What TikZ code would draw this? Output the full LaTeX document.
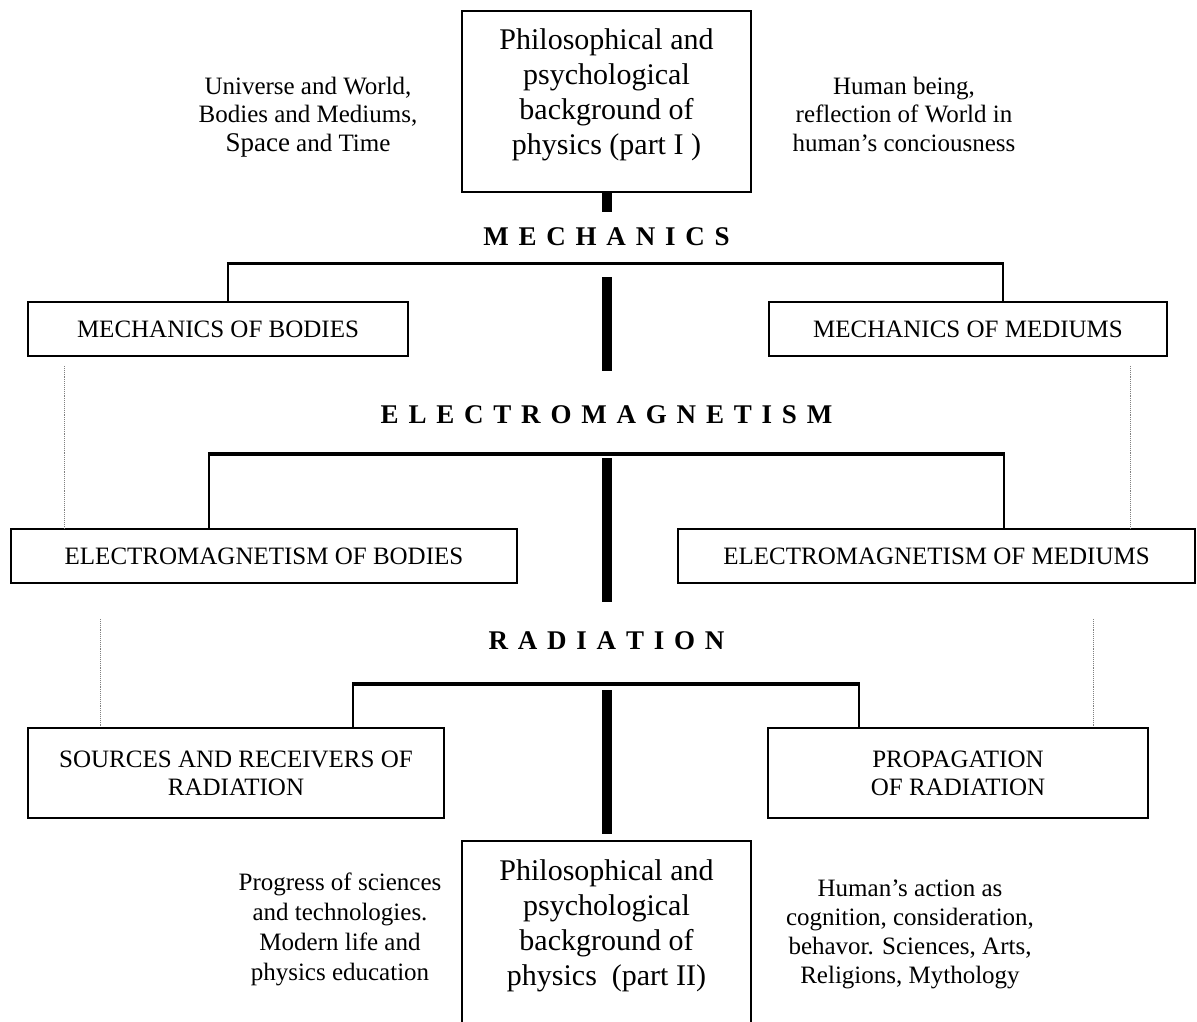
\documentclass[tikz,border=0pt]{standalone}
\usepackage{fontspec}
\setmainfont{Liberation Serif}
\usetikzlibrary{calc}

% spread the letters of a word apart by a fixed gap
\newcommand\spreadit[1]{\spreadA#1\relax\unkern}
\def\spreadA#1{\ifx#1\relax\else#1\kern9.8pt\expandafter\spreadA\fi}

\begin{document}
\begin{tikzpicture}[x=1pt, y=-1pt,
  box/.style={draw, line width=1.5pt, rectangle, inner sep=0pt, align=center,
    font=\fontsize{25}{28}\selectfont},
  bigbox/.style={draw, line width=1.6pt, rectangle, inner sep=0pt, align=center,
    font=\fontsize{30}{35}\selectfont, minimum width=289pt},
  sidetext/.style={inner sep=0pt, align=center, anchor=north,
    font=\fontsize{25}{30}\selectfont},
  heading/.style={inner sep=0pt, anchor=base, font=\fontsize{27}{30}\selectfont\bfseries},
  trunk/.style={line width=10pt},
  vbar/.style={line width=2.5pt},
  faint/.style={draw=gray, line width=0.9pt, densely dotted},
]
\useasboundingbox (0,0) rectangle (1197,1021);
\fill[white] (0,0) rectangle (1197,1021);
\clip (0,0) rectangle (1197,1021);

% ---- top block ----
\node[bigbox, minimum height=181pt] (top) at (606.5,101.5)
  {Philosophical and\\psychological\\background of\\physics (part I )\rule[-20.5pt]{0pt}{0pt}};
\node[sidetext, font=\fontsize{25}{28.5}\selectfont] (world) at (308,76.5)
  {Universe and World,\\Bodies and Mediums,\\{\fontsize{27}{28.5}\selectfont Space} and Time};
\node[sidetext, font=\fontsize{25}{28.5}\selectfont] (human) at (904,76.5)
  {Human being,\\reflection of World in\\human’s conciousness};

% ---- mechanics ----
\node[heading] (mech) at (606.5,245) {\spreadit{MECHANICS}};
\node[box, minimum width=380pt, minimum height=54pt] (mb) at (218,329) {MECHANICS OF BODIES};
\node[box, minimum width=398pt, minimum height=54pt] (mm) at (968,329) {MECHANICS OF MEDIUMS};

% ---- electromagnetism ----
\node[heading] (elmag) at (606.5,423) {\spreadit{ELECTROMAGNETISM}};
\node[box, minimum width=506pt, minimum height=54pt] (emb) at (264,556) {ELECTROMAGNETISM OF BODIES};
\node[box, minimum width=517pt, minimum height=54pt] (emm) at (936.5,556) {ELECTROMAGNETISM OF MEDIUMS};

% ---- radiation ----
\node[heading] (rad) at (606.5,649) {\spreadit{RADIATION}};
\node[box, minimum width=416pt, minimum height=90pt] (src) at (236,773) {SOURCES AND RECEIVERS OF\\RADIATION};
\node[box, minimum width=380pt, minimum height=90pt] (prop) at (958,773) {PROPAGATION\\OF RADIATION};

% ---- bottom block ----
\node[bigbox, minimum height=190pt] (bot) at (606.5,936)
  {Philosophical and\\psychological\\background of\\physics\ \ (part II)\rule[-27.5pt]{0pt}{0pt}};
\node[sidetext] (progress) at (340,873)
  {Progress of sciences\\and technologies.\\Modern life and\\physics education};
\node[sidetext, font=\fontsize{25}{29}\selectfont] (action) at (910,880)
  {Human’s action as\\cognition, consideration,\\behavor. Sciences, Arts,\\Religions, Mythology};

% ---- central trunk ----
\coordinate (t1) at (606.5,212);
\coordinate (t2a) at (606.5,277);  \coordinate (t2b) at (606.5,371);
\coordinate (t3a) at (606.5,458);  \coordinate (t3b) at (606.5,602);
\coordinate (t4a) at (606.5,690);  \coordinate (t4b) at (606.5,834);
\draw[trunk] (top.south) -- (t1);
\draw[trunk] (t2a) -- (t2b);
\draw[trunk] (t3a) -- (t3b);
\draw[trunk] (t4a) -- (t4b);

% ---- branch brackets ----
\coordinate (mL) at (228,263);  \coordinate (mR) at (1003,263);
\draw[line width=3pt] ([xshift=-1.25pt]mL) -- ([xshift=1.25pt]mR);
\draw[vbar] (mL) -- (mL |- mb.north);
\draw[vbar] (mR) -- (mR |- mm.north);

\coordinate (eL) at (209,454);  \coordinate (eR) at (1004,454);
\draw[line width=4pt] ([xshift=-1.25pt]eL) -- ([xshift=1.25pt]eR);
\draw[vbar] (eL) -- (eL |- emb.north);
\draw[vbar] (eR) -- (eR |- emm.north);

\coordinate (rL) at (353,684);  \coordinate (rR) at (859,684);
\draw[line width=4.5pt] ([xshift=-1.25pt]rL) -- ([xshift=1.25pt]rR);
\draw[vbar] (rL) -- (rL |- src.north);
\draw[vbar] (rR) -- (rR |- prop.north);

% ---- dotted side links ----
\coordinate (dl1) at (64,366);   \coordinate (dr1) at (1130,366);
\coordinate (dl2) at (100,619);  \coordinate (dr2) at (1093,619);
\draw[faint] (dl1) -- (dl1 |- emb.north);
\draw[faint] (dr1) -- (dr1 |- emm.north);
\draw[faint] (dl2) -- (dl2 |- src.north);
\draw[faint] (dr2) -- (dr2 |- prop.north);
\end{tikzpicture}
\end{document}
